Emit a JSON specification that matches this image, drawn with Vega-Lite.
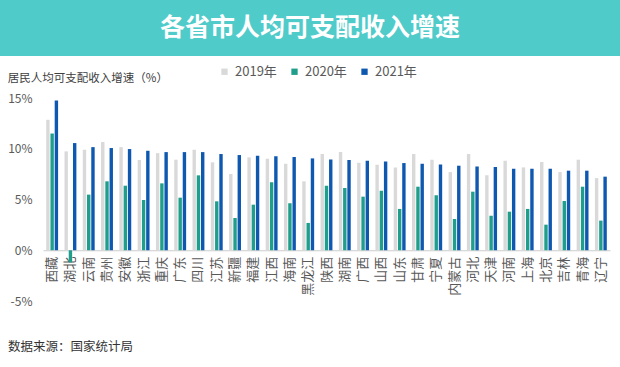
{
  "$schema": "https://vega.github.io/schema/vega-lite/v6.json",
  "padding": 0,
  "background": "white",
  "spacing": 9,
  "resolve": {"legend": {"color": "independent"}, "scale": {"color": "independent"}},
  "config": {
    "view": {"stroke": null},
    "font": "Noto Sans CJK SC"
  },
  "vconcat": [
    {
      "width": 620,
      "height": 56,
      "view": {"fill": "#4fcbca", "stroke": null},
      "data": {"values": [{"t": "各省市人均可支配收入增速"}]},
      "mark": {"type": "text", "color": "white", "fontSize": 25, "fontWeight": "bold", "font": "Noto Sans CJK SC"},
      "encoding": {"text": {"field": "t", "type": "nominal"}}
    },
    {
      "width": 620,
      "height": 203,
      "title": {"text": "数据来源：国家统计局", "orient": "bottom", "anchor": "start", "frame": "group", "dx": 8, "fontSize": 12.5, "fontWeight": "normal", "color": "#333333", "offset": 34},
      "data": {"values": [
        {"p": "西藏", "y": "2019年", "v": 12.85}, {"p": "西藏", "y": "2020年", "v": 11.5}, {"p": "西藏", "y": "2021年", "v": 14.75},
        {"p": "湖北", "y": "2019年", "v": 9.74}, {"p": "湖北", "y": "2020年", "v": -1.2}, {"p": "湖北", "y": "2021年", "v": 10.56},
        {"p": "云南", "y": "2019年", "v": 9.9}, {"p": "云南", "y": "2020年", "v": 5.48}, {"p": "云南", "y": "2021年", "v": 10.16},
        {"p": "贵州", "y": "2019年", "v": 10.66}, {"p": "贵州", "y": "2020年", "v": 6.79}, {"p": "贵州", "y": "2021年", "v": 10.07},
        {"p": "安徽", "y": "2019年", "v": 10.16}, {"p": "安徽", "y": "2020年", "v": 6.36}, {"p": "安徽", "y": "2021年", "v": 9.97},
        {"p": "浙江", "y": "2019年", "v": 8.89}, {"p": "浙江", "y": "2020年", "v": 4.95}, {"p": "浙江", "y": "2021年", "v": 9.8},
        {"p": "重庆", "y": "2019年", "v": 9.57}, {"p": "重庆", "y": "2020年", "v": 6.59}, {"p": "重庆", "y": "2021年", "v": 9.67},
        {"p": "广东", "y": "2019年", "v": 8.92}, {"p": "广东", "y": "2020年", "v": 5.18}, {"p": "广东", "y": "2021年", "v": 9.67},
        {"p": "四川", "y": "2019年", "v": 9.9}, {"p": "四川", "y": "2020年", "v": 7.38}, {"p": "四川", "y": "2021年", "v": 9.67},
        {"p": "江苏", "y": "2019年", "v": 8.66}, {"p": "江苏", "y": "2020年", "v": 4.82}, {"p": "江苏", "y": "2021年", "v": 9.48},
        {"p": "新疆", "y": "2019年", "v": 7.51}, {"p": "新疆", "y": "2020年", "v": 3.18}, {"p": "新疆", "y": "2021年", "v": 9.38},
        {"p": "福建", "y": "2019年", "v": 9.15}, {"p": "福建", "y": "2020年", "v": 4.49}, {"p": "福建", "y": "2021年", "v": 9.31},
        {"p": "江西", "y": "2019年", "v": 9.02}, {"p": "江西", "y": "2020年", "v": 6.69}, {"p": "江西", "y": "2021年", "v": 9.25},
        {"p": "海南", "y": "2019年", "v": 8.52}, {"p": "海南", "y": "2020年", "v": 4.62}, {"p": "海南", "y": "2021年", "v": 9.18},
        {"p": "黑龙江", "y": "2019年", "v": 6.79}, {"p": "黑龙江", "y": "2020年", "v": 2.69}, {"p": "黑龙江", "y": "2021年", "v": 9.05},
        {"p": "陕西", "y": "2019年", "v": 9.48}, {"p": "陕西", "y": "2020年", "v": 6.36}, {"p": "陕西", "y": "2021年", "v": 8.95},
        {"p": "湖南", "y": "2019年", "v": 9.67}, {"p": "湖南", "y": "2020年", "v": 6.13}, {"p": "湖南", "y": "2021年", "v": 8.89},
        {"p": "广西", "y": "2019年", "v": 8.62}, {"p": "广西", "y": "2020年", "v": 5.28}, {"p": "广西", "y": "2021年", "v": 8.82},
        {"p": "山西", "y": "2019年", "v": 8.43}, {"p": "山西", "y": "2020年", "v": 5.87}, {"p": "山西", "y": "2021年", "v": 8.75},
        {"p": "山东", "y": "2019年", "v": 8.16}, {"p": "山东", "y": "2020年", "v": 4.07}, {"p": "山东", "y": "2021年", "v": 8.59},
        {"p": "甘肃", "y": "2019年", "v": 9.48}, {"p": "甘肃", "y": "2020年", "v": 6.26}, {"p": "甘肃", "y": "2021年", "v": 8.52},
        {"p": "宁夏", "y": "2019年", "v": 8.92}, {"p": "宁夏", "y": "2020年", "v": 5.41}, {"p": "宁夏", "y": "2021年", "v": 8.46},
        {"p": "内蒙古", "y": "2019年", "v": 7.7}, {"p": "内蒙古", "y": "2020年", "v": 3.08}, {"p": "内蒙古", "y": "2021年", "v": 8.33},
        {"p": "河北", "y": "2019年", "v": 9.48}, {"p": "河北", "y": "2020年", "v": 5.77}, {"p": "河北", "y": "2021年", "v": 8.26},
        {"p": "天津", "y": "2019年", "v": 7.38}, {"p": "天津", "y": "2020年", "v": 3.41}, {"p": "天津", "y": "2021年", "v": 8.2},
        {"p": "河南", "y": "2019年", "v": 8.82}, {"p": "河南", "y": "2020年", "v": 3.8}, {"p": "河南", "y": "2021年", "v": 8.03},
        {"p": "上海", "y": "2019年", "v": 8.16}, {"p": "上海", "y": "2020年", "v": 4.07}, {"p": "上海", "y": "2021年", "v": 8.03},
        {"p": "北京", "y": "2019年", "v": 8.69}, {"p": "北京", "y": "2020年", "v": 2.52}, {"p": "北京", "y": "2021年", "v": 8.03},
        {"p": "吉林", "y": "2019年", "v": 7.7}, {"p": "吉林", "y": "2020年", "v": 4.85}, {"p": "吉林", "y": "2021年", "v": 7.84},
        {"p": "青海", "y": "2019年", "v": 8.92}, {"p": "青海", "y": "2020年", "v": 6.26}, {"p": "青海", "y": "2021年", "v": 7.84},
        {"p": "辽宁", "y": "2019年", "v": 7.11}, {"p": "辽宁", "y": "2020年", "v": 2.92}, {"p": "辽宁", "y": "2021年", "v": 7.25}
      ]},
      "mark": {"type": "bar"},
      "encoding": {
        "x": {
          "field": "p", "type": "nominal", "sort": null,
          "scale": {"paddingInner": 0.35, "paddingOuter": 0.175, "range": [43, 610]},
          "axis": {"title": null, "labelAngle": -90, "labelFontSize": 13, "labelColor": "#595959", "labelPadding": 6, "ticks": false, "domain": true, "domainColor": "#cccccc", "domainWidth": 1, "offset": -50.75, "grid": false}
        },
        "xOffset": {"field": "y", "type": "nominal", "scale": {"paddingInner": 0.2}},
        "y": {
          "field": "v", "type": "quantitative",
          "scale": {"domain": [-5, 15], "nice": false},
          "axis": {"values": [-5, 0, 5, 10, 15], "labelExpr": "datum.value + '%'", "labelFontSize": 12, "labelColor": "#595959", "labelPadding": 11, "ticks": false, "domain": false, "grid": false, "offset": -43,
            "title": "居民人均可支配收入增速（%）", "titleAngle": 0, "titleAlign": "left", "titleBaseline": "middle", "titleX": -35.7, "titleY": -20, "titleFontSize": 11.5, "titleFontWeight": "normal", "titleColor": "#404040"}
        },
        "color": {
          "field": "y", "type": "nominal",
          "scale": {"domain": ["2019年", "2020年", "2021年"], "range": ["#d9d9d9", "#1f9e8c", "#0f58b0"]},
          "legend": {"title": null, "orient": "none", "direction": "horizontal", "legendX": 218, "legendY": -33, "symbolType": "square", "symbolSize": 40, "labelFontSize": 13, "labelColor": "#595959", "labelOffset": 4, "columnPadding": 11}
        }
      }
    }
  ]
}
